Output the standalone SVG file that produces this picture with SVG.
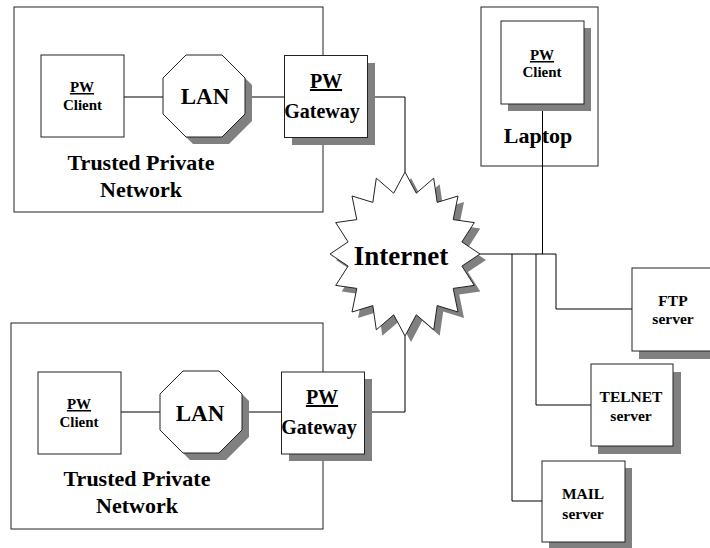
<svg xmlns="http://www.w3.org/2000/svg" xmlns:xlink="http://www.w3.org/1999/xlink" width="710" height="548" viewBox="0 0 710 548">
  <style>
    .frame { fill: #fff; stroke: #222; stroke-width: 1; }
    .box { fill: #fff; stroke: #222; stroke-width: 1; }
    .shadow { fill: #808080; stroke: none; }
    .wire { fill: none; stroke: #000; stroke-width: 1; }
    text { font-family: "Liberation Serif", "Times New Roman", serif; font-weight: bold; fill: #000; text-anchor: middle; }
    .small { font-size: 15px; }
    .mid { font-size: 20px; }
    .big { font-size: 22px; }
    .srv { font-size: 15.5px; }
    .ul { text-decoration: underline; }
  </style>
  <defs>
    <polygon id="oct" points="23,0 59,0 82,23 82,59 59,82 23,82 0,59 0,23"/>
    <polygon id="burst" points="405,172 416.3,193.2 433.7,178.2 437.2,202.4 458,196 453.2,219.6 474.3,222.6 461.9,241.9 480,254 461.9,266.1 474.3,285.4 453.2,288.4 458,312 437.2,305.6 433.7,329.8 416.3,314.8 405,336 393.7,314.8 376.3,329.8 372.8,305.6 352,312 356.8,288.4 335.7,285.4 348.1,266.1 330,254 348.1,241.9 335.7,222.6 356.8,219.6 352,196 372.8,202.4 376.3,178.2 393.7,193.2"/>
  </defs>

  <!-- network frames -->
  <g id="net-top-frame"><rect class="frame" x="14" y="7" width="309" height="205"/></g>
  <g id="net-bottom-frame"><rect class="frame" x="11" y="323" width="312" height="206"/></g>
  <g id="laptop-frame"><rect class="frame" x="481" y="7" width="117" height="159"/></g>

  <!-- connectors -->
  <g id="connectors">
    <path class="wire" d="M124,97 H163"/>
    <path class="wire" d="M246,97 H284"/>
    <path class="wire" d="M368,97 H405 V172"/>
    <path class="wire" d="M121,412 H160"/>
    <path class="wire" d="M242,412 H282"/>
    <path class="wire" d="M364,412 H405 V336"/>
    <path class="wire" d="M480,254 H556 V309 H632"/>
    <path class="wire" d="M542.5,104 V254"/>
    <path class="wire" d="M536,254 V405 H591"/>
    <path class="wire" d="M512,254 V501 H542"/>
  </g>

  <!-- upper private network -->
  <g id="top-client">
    <rect class="box" x="41" y="55" width="83" height="82"/>
    <text class="small ul" x="82" y="92">PW</text>
    <text class="small" x="82.5" y="110">Client</text>
  </g>
  <g id="top-lan">
    <use href="#oct" class="shadow" x="170" y="62"/>
    <use href="#oct" class="box" x="163" y="55"/>
    <text style="font-size:23px" x="205" y="104">LAN</text>
  </g>
  <g id="top-gateway">
    <rect class="shadow" x="292" y="63" width="83" height="82"/>
    <rect class="box" x="284.5" y="55.5" width="83" height="82"/>
    <text class="mid ul" x="326" y="88">PW</text>
    <text class="mid" x="322" y="118">Gateway</text>
  </g>
  <g id="top-label">
    <text class="big" x="141" y="170">Trusted Private</text>
    <text class="big" x="141" y="197">Network</text>
  </g>

  <!-- lower private network -->
  <g id="bottom-client">
    <rect class="box" x="38" y="372" width="83" height="82"/>
    <text class="small ul" x="79" y="409">PW</text>
    <text class="small" x="79" y="427">Client</text>
  </g>
  <g id="bottom-lan">
    <use href="#oct" class="shadow" x="167" y="378"/>
    <use href="#oct" class="box" x="160" y="371"/>
    <text style="font-size:23px" x="200" y="421">LAN</text>
  </g>
  <g id="bottom-gateway">
    <rect class="shadow" x="289" y="379" width="83" height="82"/>
    <rect class="box" x="281.5" y="372" width="83" height="82"/>
    <text class="mid ul" x="322" y="404">PW</text>
    <text class="mid" x="319" y="434">Gateway</text>
  </g>
  <g id="bottom-label">
    <text class="big" x="137" y="486">Trusted Private</text>
    <text class="big" x="137" y="513">Network</text>
  </g>

  <!-- internet cloud -->
  <g id="internet">
    <use href="#burst" class="shadow" x="6" y="6"/>
    <use href="#burst" class="box"/>
    <text style="font-size:27px" x="401" y="265">Internet</text>
  </g>

  <!-- laptop -->
  <g id="laptop">
    <rect class="shadow" x="508" y="28" width="83" height="83"/>
    <rect class="box" x="501" y="21" width="83" height="83"/>
    <text class="small ul" x="542" y="60">PW</text>
    <text class="small" x="542" y="77">Client</text>
    <text class="big" x="538" y="143">Laptop</text>
  </g>

  <!-- servers -->
  <g id="ftp-server">
    <rect class="shadow" x="639" y="276" width="80" height="83"/>
    <rect class="box" x="632" y="268" width="80" height="83"/>
    <text class="srv" x="673" y="306">FTP</text>
    <text class="srv" x="673" y="324">server</text>
  </g>
  <g id="telnet-server">
    <rect class="shadow" x="598" y="372" width="83" height="82"/>
    <rect class="box" x="591" y="364" width="82" height="82"/>
    <text class="srv" x="631" y="402">TELNET</text>
    <text class="srv" x="631" y="421">server</text>
  </g>
  <g id="mail-server">
    <rect class="shadow" x="549" y="468" width="83" height="82"/>
    <rect class="box" x="542" y="461" width="83" height="81"/>
    <text class="srv" x="583" y="499">MAIL</text>
    <text class="srv" x="583" y="519">server</text>
  </g>
</svg>
